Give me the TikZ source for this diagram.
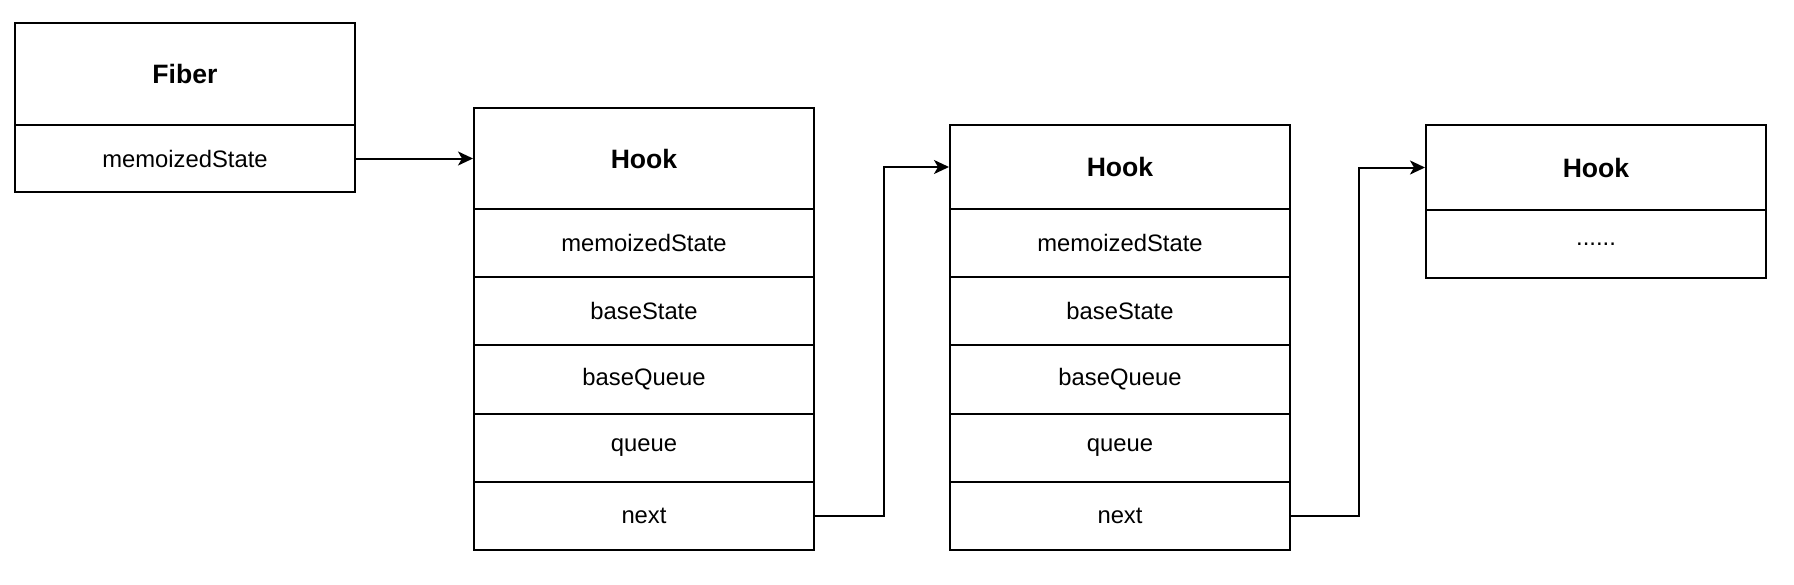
\documentclass[tikz,border=0pt]{standalone}
\usepackage{fontspec}
\setmainfont{Liberation Sans}
\usetikzlibrary{arrows.meta}
\begin{document}
\begin{tikzpicture}[x=1pt,y=-1pt,
  cell/.style={draw=black,line width=2pt,inner sep=0pt,rectangle,font=\fontsize{23.8}{28}\selectfont},
  head/.style={cell,font=\fontsize{26.6}{30}\selectfont\bfseries},
  link/.style={draw=black,line width=2pt,-{Stealth[length=15pt,width=14pt,inset=4pt]}}]
\useasboundingbox (0,0) rectangle (1794,584);
% Fiber
\node[head,minimum width=340pt,minimum height=102pt] (fh) at (185,74) {Fiber};
\node[cell,minimum width=340pt,minimum height=67pt] (fm) at (185,158.5) {memoizedState};
% Hook 1
\node[head,minimum width=340pt,minimum height=101pt] (ah) at (644,158.5) {Hook};
\node[cell,minimum width=340pt,minimum height=68.2pt] (am) at (644,243.1) {memoizedState};
\node[cell,minimum width=340pt,minimum height=68.2pt] (as) at (644,311.3) {baseState};
\node[cell,minimum width=340pt,minimum height=68.2pt] (aq) at (644,379.5) {baseQueue};
\node[cell,minimum width=340pt,minimum height=68.2pt] (au) at (644,447.7) {queue};
\node[cell,minimum width=340pt,minimum height=68.2pt] (an) at (644,515.9) {next};
% Hook 2
\node[head,minimum width=340pt,minimum height=84pt] (bh) at (1120,167) {Hook};
\node[cell,minimum width=340pt,minimum height=68.2pt] (bm) at (1120,243.1) {memoizedState};
\node[cell,minimum width=340pt,minimum height=68.2pt] (bs) at (1120,311.3) {baseState};
\node[cell,minimum width=340pt,minimum height=68.2pt] (bq) at (1120,379.5) {baseQueue};
\node[cell,minimum width=340pt,minimum height=68.2pt] (bu) at (1120,447.7) {queue};
\node[cell,minimum width=340pt,minimum height=68.2pt] (bn) at (1120,515.9) {next};
% Hook 3
\node[head,minimum width=340pt,minimum height=85pt] (ch) at (1596,167.5) {Hook};
\node[cell,minimum width=340pt,minimum height=68pt] (cm) at (1596,244) {......};
% connectors
\draw[link] (fm.east) -- (ah.west);
\draw[link] (an.east) -- ++(69,0) |- (bh.west);
\draw[link] (bn.east) -- ++(68,0) |- (ch.west);
\end{tikzpicture}
\end{document}
